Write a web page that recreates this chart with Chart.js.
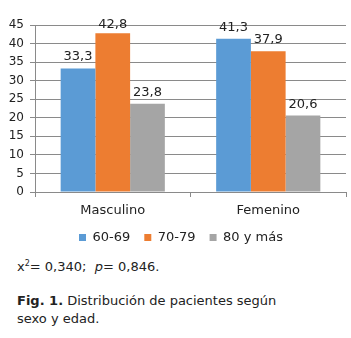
<!DOCTYPE html>
<html>
<head>
<meta charset="utf-8">
<script src="https://cdn.jsdelivr.net/npm/chart.js@4"></script>
<style>
  html, body { margin: 0; padding: 0; background: #fff; }
  body { width: 351px; height: 338px; position: relative; overflow: hidden;
         font-family: "DejaVu Sans", Verdana, sans-serif; color: #222; }
  #wrap { position: absolute; left: 0; top: 0; width: 351px; height: 254px; }
  #stats { position: absolute; left: 17px; top: 259px; font-size: 13px; white-space: pre; }
  #stats sup { font-size: 8px; vertical-align: 5px; line-height: 0; }
  #caption { position: absolute; left: 17px; top: 292px; font-size: 13px; line-height: 18px; }
</style>
</head>
<body>
<div id="wrap"><canvas id="chart" width="351" height="254"></canvas></div>
<div id="stats">x<sup>2</sup>= 0,340;  <i>p</i>= 0,846.</div>
<div id="caption"><b>Fig. 1.</b> Distribución de pacientes según<br>sexo y edad.</div>
<script>
const categories = ['Masculino', 'Femenino'];
const groups = ['60-69', '70-79', '80 y más'];
const edad6069 = [33.3, 41.3];
const edad7079 = [42.8, 37.9];
const edad80 = [23.8, 20.6];
const yMin = 0, yMax = 45, yStep = 5;

document.addEventListener('DOMContentLoaded', function() {
    const ctx = document.getElementById('chart').getContext('2d');
    const font = "'DejaVu Sans', Verdana, sans-serif";
    const gridColor = '#8a8a8a';

    // valores encima de las barras, con coma decimal
    const valueLabels = {
        id: 'valueLabels',
        afterDatasetsDraw(chart) {
            const c = chart.ctx;
            c.save();
            c.font = '13px ' + font;
            c.fillStyle = '#222';
            c.textAlign = 'center';
            c.textBaseline = 'alphabetic';
            chart.data.datasets.forEach((ds, i) => {
                chart.getDatasetMeta(i).data.forEach((bar, j) => {
                    const y = Math.max(bar.y - 8, chart.chartArea.top + 3);
                    c.fillText(ds.data[j].toFixed(1).replace('.', ','), bar.x, y);
                });
            });
            c.restore();
        }
    };

    // la leyenda va un poco a la derecha, como en el original
    const legendShift = {
        id: 'legendShift',
        afterLayout(chart) {
            chart.legend.left += 8;
            chart.legend.right += 8;
        }
    };

    new Chart(ctx, {
        type: 'bar',
        data: {
            labels: categories,
            datasets: [
                { label: groups[0], data: edad6069, backgroundColor: '#5b9bd5' },
                { label: groups[1], data: edad7079, backgroundColor: '#ed7d31' },
                { label: groups[2], data: edad80, backgroundColor: '#a5a5a5' }
            ]
        },
        options: {
            responsive: false,
            animation: false,
            events: [],
            categoryPercentage: 0.67,
            barPercentage: 1,
            layout: { padding: { top: 25, right: 5, left: 0, bottom: 0 } },
            plugins: {
                tooltip: { enabled: false },
                legend: {
                    position: 'bottom',
                    labels: {
                        boxWidth: 7,
                        boxHeight: 7,
                        padding: 14,
                        color: '#222',
                        font: { family: font, size: 13 }
                    }
                }
            },
            scales: {
                x: {
                    afterFit: function(scale) { scale.height = 25; },
                    border: { display: true, color: gridColor },
                    grid: { drawOnChartArea: false, drawTicks: true, tickLength: 5, color: gridColor, offset: true },
                    ticks: { color: '#222', padding: 6, font: { family: font, size: 13 } }
                },
                y: {
                    min: yMin,
                    max: yMax,
                    afterFit: function(scale) { scale.width = 35; },
                    border: { display: true, color: gridColor },
                    grid: { color: gridColor, tickLength: 5 },
                    ticks: { stepSize: yStep, color: '#222', padding: 6, font: { family: font, size: 12 } }
                }
            }
        },
        plugins: [valueLabels, legendShift]
    });
});
</script>
</body>
</html>
